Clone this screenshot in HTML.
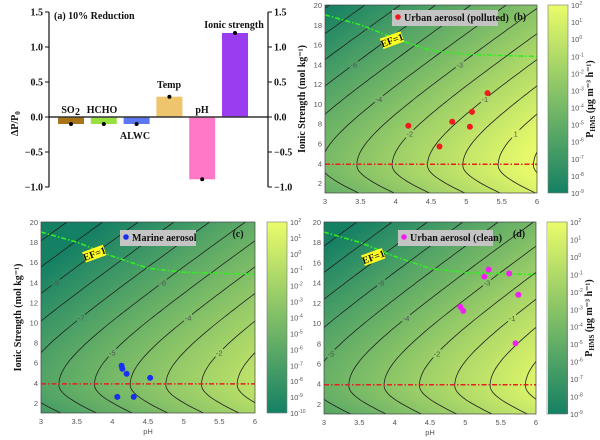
<!DOCTYPE html>
<html><head><meta charset="utf-8">
<style>
body{margin:0;background:#fff;}
#wrap{position:relative;width:600px;height:440px;overflow:hidden;font-family:"Liberation Serif",serif;}
canvas{position:absolute;}
svg{position:absolute;left:0;top:0;}
.tk{font-family:"Liberation Sans",sans-serif;font-size:7.5px;fill:#555;}
.bt{font-weight:bold;font-size:10px;fill:#111;}
</style></head><body>
<div id="wrap">
<canvas id="cb" width="212" height="188" style="left:325px;top:5px"></canvas>
<canvas id="cc" width="214" height="191" style="left:41px;top:222px"></canvas>
<canvas id="cd" width="212" height="192" style="left:324px;top:222px"></canvas>
<canvas id="barb" width="20" height="188" style="left:548px;top:5px"></canvas>
<canvas id="barc" width="20" height="191" style="left:267px;top:222px"></canvas>
<canvas id="bard" width="20" height="192" style="left:548px;top:222px"></canvas>
<svg id="s" width="600" height="440"></svg>
</div>
<script>
// ---- Panel (a) data ----
const barCats=["SO2","HCHO","ALWC","Temp","pH","Ionic strength"];
const barVals=[-0.1,-0.1,-0.1,0.29,-0.89,1.2];
const barColors=["#a8741a","#98e040","#5c78f0","#eec46c","#ff78c8","#9a3cf0"];
const aTicks=[1.5,1.0,0.5,0.0,-0.5,-1.0];
// ---- Contour panels data ----
const xTicks=[3,3.5,4,4.5,5,5.5,6];
const yTicks=[2,4,6,8,10,12,14,16,18,20];
const efPH=[3,3.5,4,4.5,5,5.5,6];
const efI=[19,18,16.6,15.4,15,14.9,14.8];
const redI=3.9;
const ptsB_pH=[4.18,4.62,4.8,5.05,5.08,5.3];
const ptsB_I=[7.8,5.7,8.2,7.7,9.2,11.1];
const ptsC_pH=[4.07,4.13,4.14,4.2,4.3,4.53];
const ptsC_I=[2.6,5.7,5.4,4.9,2.6,4.5];
const ptsD_pH=[4.93,4.97,5.27,5.33,5.62,5.75,5.71];
const ptsD_I=[11.6,11.2,14.6,15.3,14.9,12.8,8.0];

const S=document.getElementById('s');const NS="http://www.w3.org/2000/svg";
function mk(t,a,p){const e=document.createElementNS(NS,t);for(const k in a)e.setAttribute(k,a[k]);(p||S).appendChild(e);return e;}
function tx(x,y,s,a,p){const e=mk('text',Object.assign({x:x,y:y},a||{}),p);e.textContent=s;return e;}

// ----- Panel a -----
const ax0=49,ax1=268,az=117,as=70;
const ya=v=>az-v*as;
const ga=mk('g',{});


barVals.forEach((v,i)=>{
  const cx=71+i*32.8,w=26;
  const r=mk('rect',{x:cx-w/2,y:Math.min(ya(v),az),width:w,height:Math.abs(ya(v)-az),fill:barColors[i]},ga);
  
  
  const d=mk('circle',{cx:cx,cy:ya(v),r:2,fill:'#000'},ga);
  
  
});
mk('line',{x1:ax0,x2:ax1,y1:az,y2:az,stroke:'#333','stroke-width':1.5},ga);
mk('line',{x1:ax0,x2:ax0,y1:ya(1.5),y2:ya(-1.0),stroke:'#111','stroke-width':1.2},ga);
mk('line',{x1:ax1,x2:ax1,y1:ya(1.5),y2:ya(-1.0),stroke:'#111','stroke-width':1.2},ga);
aTicks.forEach(t=>{
  mk('line',{x1:ax0-4,x2:ax0,y1:ya(t),y2:ya(t),stroke:'#111'},ga);
  mk('line',{x1:ax1,x2:ax1+4,y1:ya(t),y2:ya(t),stroke:'#111'},ga);
  const s=(t<0?'\u2212':'')+Math.abs(t).toFixed(1);
  tx(ax0-6,ya(t)+3.5,s,{class:'bt','text-anchor':'end'},ga);
  tx(ax1+6,ya(t)+3.5,s,{class:'bt'},ga);
});
tx(54,19,'(a)  10% Reduction',{class:'bt'},ga);
const lblA=[[68,113,'SO'],[102,113,'HCHO'],[135,139,'ALWC'],[169,88,'Temp'],[202,113,'pH'],[234,28,'Ionic strength']];
lblA.forEach(l=>{tx(l[0],l[1],l[2],{class:'bt','text-anchor':'middle','font-size':'9px'},ga);});
tx(75,115,'2',{class:'bt','font-size':'6px'},ga);
const yl=tx(0,0,'\u0394P/P',{class:'bt',transform:'translate(18,136) rotate(-90)'},ga);
const ys=mk('tspan',{dy:2,'font-size':'7px'},yl);ys.textContent='0';



// ----- colormap (summer) -----
function cmap(t){t=Math.max(0,Math.min(1,t));return [Math.round(255*t*0.92+20*(1-t)),Math.round(128+124*t),Math.round(100+6*t)];}
function gI(I){const s=I>3.8?0.2:0.36;return Math.sqrt(((I-3.8)*s)**2+0.49)-0.7;}
function field(pH,I,c){return 2*(pH-gI(I))-c;}

function panel(id,cvId,barId,x0,x1,y0,y1,cb0,cb1,c,ptx,pty,ptColor,legend,leg,letter,showYlab,showCbLab,showXlab,efLab){
  const X=p=>x0+(p-3)/3*(x1-x0);
  const Y=I=>y1-(I-1)/19*(y1-y0);
  const cv=document.getElementById(cvId),ctx=cv.getContext('2d');
  const W=cv.width,H=cv.height,img=ctx.createImageData(W,H);
  for(let j=0;j<H;j++)for(let i=0;i<W;i++){
    const p=3+(i+0.5)/W*3,I=20-(j+0.5)/H*19;
    const f=field(p,I,c);const col=cmap((f-cb0)/(cb1-cb0));
    const k=(j*W+i)*4;img.data[k]=col[0];img.data[k+1]=col[1];img.data[k+2]=col[2];img.data[k+3]=255;}
  ctx.putImageData(img,0,0);
  const bc=document.getElementById(barId),bx=bc.getContext('2d');
  for(let j=0;j<bc.height;j++){const col=cmap(1-j/bc.height);bx.fillStyle=`rgb(${col})`;bx.fillRect(0,j,bc.width,1);}
  const g=mk('g',{});
  
  
  const cl=mk('clipPath',{id:'clip'+id},g);mk('rect',{x:x0,y:y0,width:x1-x0,height:y1-y0},cl);
  const gc=mk('g',{'clip-path':'url(#clip'+id+')'},g);
  for(let k=-14;k<=4;k++){
    let d='';
    for(let n=0;n<=95;n++){const I=1+n*0.2;const p=(k+c)/2+gI(I);d+=(n?'L':'M')+X(p).toFixed(1)+','+Y(I).toFixed(1);}
    const pl=mk('path',{d:d,fill:'none',stroke:'#222','stroke-width':0.8},gc);
    
    
    // label on upper arm
    const Il=Math.min(19,7+((k+20)%3)*3.5),pl2=(k+c)/2+gI(Il);
    if(pl2>3.05&&pl2<5.9){
      const lx=X(pl2),ly=Y(Il);
      mk('rect',{x:lx-4,y:ly-4,width:8,height:8,fill:`rgb(${cmap((k-cb0)/(cb1-cb0))})`},gc);
      tx(lx,ly+3,k,{class:'tk','font-size':'7px','text-anchor':'middle',fill:'#333'},gc);
    }
  }
  let d='';efPH.forEach((p,i)=>{d+=(i?'L':'M')+X(p)+','+Y(efI[i]);});
  const ef=mk('path',{d:d,fill:'none',stroke:'#33ee22','stroke-width':1.6,'stroke-dasharray':'5,2,1.5,2'},gc);
  
  
  const rl=mk('line',{x1:x0,x2:x1,y1:Y(redI),y2:Y(redI),stroke:'#e82020','stroke-width':1.5,'stroke-dasharray':'5,2,1.5,2'},gc);
  
  
  const ex=X(efLab[0]),ey=Y(efLab[1]);
  const eg=mk('g',{transform:`translate(${ex},${ey}) rotate(-20)`},g);
  
  
  mk('rect',{x:-11,y:-6,width:22,height:11,fill:'#ffff22'},eg);
  tx(0,3,'EF=1',{class:'bt','font-size':'8px','text-anchor':'middle'},eg);
  ptx.forEach((p,i)=>{const e=mk('circle',{cx:X(p),cy:Y(pty[i]),r:3,fill:ptColor},g);
    
    });
  const lg=mk('g',{},g);
  
  
  mk('rect',{x:leg[0],y:leg[1],width:leg[2],height:16,fill:'#c4c4c4'},lg);
  mk('circle',{cx:leg[0]+6,cy:leg[1]+7,r:2.8,fill:ptColor},lg);
  tx(leg[0]+12,leg[1]+11,legend,{class:'bt','font-size':'9px'},lg);
  tx(x1-17,y0+15,letter,{class:'bt','font-size':'11px','text-anchor':'middle'},g);
  mk('rect',{x:x0,y:y0,width:x1-x0,height:y1-y0,fill:'none',stroke:'#444','stroke-width':0.7},g);
  yTicks.forEach(t=>{tx(x0-3,Y(t)+3,t,{class:'tk','text-anchor':'end'},g);});
  xTicks.forEach(t=>{tx(X(t),y1+11,t,{class:'tk','text-anchor':'middle'},g);});
  if(showXlab){tx((x0+x1)/2,y1+21,'pH',{class:'tk','font-size':'9px','text-anchor':'middle'},g);}
  if(showYlab){const e=tx(0,0,'Ionic Strength (mol kg\u207B\u00B9)',{class:'bt','font-size':'10px','text-anchor':'middle',transform:`translate(${x0-20},${(y0+y1)/2}) rotate(-90)`},g);
    
    }
  const cbx=x1+11+(id==='panel-c'?1:0),cbw=20;
  mk('rect',{x:cbx,y:y0,width:cbw,height:y1-y0,fill:'none',stroke:'#777','stroke-width':0.6},g);
  const n=cb1-cb0;
  for(let k=cb0;k<=cb1;k++){const yy=y1-(k-cb0)/n*(y1-y0);
    const t=tx(cbx+cbw+3,yy+3,'10',{class:'tk','font-size':'7px'},g);
    const ts=mk('tspan',{dy:-3,'font-size':'5px'},t);ts.textContent=(k<0?'-':'')+Math.abs(k);}
  if(showCbLab){const e=tx(0,0,'P',{class:'bt','font-size':'10px','text-anchor':'middle',transform:`translate(${cbx+45},${(y0+y1)/2}) rotate(-90)`},g);
    const s1=mk('tspan',{'font-size':'7px',dy:2},e);s1.textContent='HMS';
    const s2=mk('tspan',{dy:-2},e);s2.textContent=' (\u00B5g m\u207B\u00B3 h\u207B\u00B9)';
    
    }
}
panel('panel-b','cb','barb',325,537,5,193,-9,2,9.9,ptsB_pH,ptsB_I,'#ee1c1c','Urban aerosol (polluted)',[392,10,106],'(b)',true,true,false,[3.95,16.4]);
panel('panel-c','cc','barc',41,255,222,413,-10,2,12.5,ptsC_pH,ptsC_I,'#1a30ee','Marine aerosol',[120,230,76],'(c)',true,false,true,[3.75,16.8]);
panel('panel-d','cd','bard',324,536,222,414,-9,2,10.7,ptsD_pH,ptsD_I,'#ee22ee','Urban aerosol (clean)',[398,230,95],'(d)',false,true,true,[3.7,16.5]);
</script>
</body></html>
